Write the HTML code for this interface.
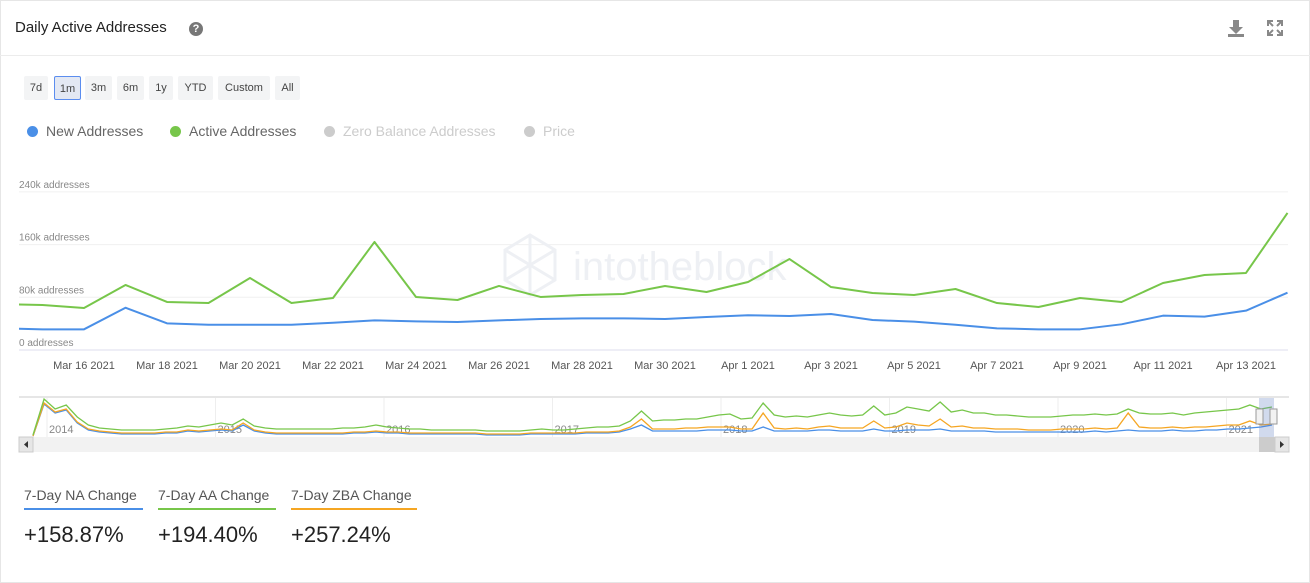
<!DOCTYPE html>
<html><head><meta charset="utf-8"><style>
body{margin:0;width:1310px;height:583px;background:#fff;font-family:"Liberation Sans",sans-serif;overflow:hidden;position:relative}
.abs{position:absolute}
.btn{position:absolute;top:76px;height:24px;background:#f3f4f5;border-radius:2px;font-size:11px;color:#444;line-height:24px;text-align:center}
.leg{position:absolute;top:123px;font-size:14px;line-height:16px}
.dot{display:inline-block;width:11px;height:11px;border-radius:50%;margin-right:8px;vertical-align:-1px}
.stat{position:absolute;top:487px;font-size:14px;color:#555}
.val{position:absolute;top:522px;font-size:22px;color:#222}
</style></head><body>
<div class="abs" style="left:0;top:0;width:1308px;height:581px;border:1px solid #e6e6e6"></div>
<div class="abs" style="left:15px;top:19px;font-size:15px;color:#222">Daily Active Addresses</div>
<div class="abs" style="left:189px;top:22px;width:14px;height:14px;border-radius:50%;background:#777;color:#fff;font-size:11px;font-weight:bold;text-align:center;line-height:14px">?</div>
<svg class="abs" style="left:1227px;top:19px" width="18" height="18"><path d="M6 1h6v7h4l-7 7-7-7h4z" fill="#888"/><rect x="1" y="15" width="16" height="3" fill="#888"/></svg>
<svg class="abs" style="left:1267px;top:20px" width="16" height="16" stroke="#888" stroke-width="2" fill="none"><path d="M1 6V1h5M10 1h5v5M15 10v5h-5M6 15H1v-5M1 1l5 5M15 1l-5 5M15 15l-5-5M1 15l5-5"/></svg>
<div class="abs" style="left:0;top:55px;width:1310px;height:1px;background:#ececec"></div>
<div class="btn" style="left:24px;width:24px">7d</div>
<div class="btn" style="left:54px;width:25px;height:22px;border:1px solid #5b8def;background:#e3e8f3">1m</div>
<div class="btn" style="left:85px;width:27px">3m</div>
<div class="btn" style="left:117px;width:27px">6m</div>
<div class="btn" style="left:149px;width:24px">1y</div>
<div class="btn" style="left:178px;width:35px">YTD</div>
<div class="btn" style="left:218px;width:52px">Custom</div>
<div class="btn" style="left:275px;width:25px">All</div>
<div class="leg" style="left:27px;color:#666"><span class="dot" style="background:#4a8fe7"></span>New Addresses</div>
<div class="leg" style="left:170px;color:#666"><span class="dot" style="background:#77c64a"></span>Active Addresses</div>
<div class="leg" style="left:324px;color:#ccc"><span class="dot" style="background:#ccc"></span>Zero Balance Addresses</div>
<div class="leg" style="left:524px;color:#ccc"><span class="dot" style="background:#ccc"></span>Price</div>
<svg class="abs" id="chart" style="left:0;top:0" width="1310" height="460"></svg>
<div class="stat" style="left:24px;width:119px;border-bottom:2px solid #4a8fe7;padding-bottom:5px">7-Day NA Change</div>
<div class="stat" style="left:158px;width:118px;border-bottom:2px solid #77c64a;padding-bottom:5px">7-Day AA Change</div>
<div class="stat" style="left:291px;width:126px;border-bottom:2px solid #f5a623;padding-bottom:5px">7-Day ZBA Change</div>
<div class="val" style="left:24px">+158.87%</div>
<div class="val" style="left:158px">+194.40%</div>
<div class="val" style="left:291px">+257.24%</div>
<script>
const yTicks=[0,80000,160000,240000];
const yTickLabels=["0 addresses","80k addresses","160k addresses","240k addresses"];
const xTickDays=[2,4,6,8,10,12,14,16,18,20,22,24,26,28,30];
const xTickLabels=["Mar 16 2021","Mar 18 2021","Mar 20 2021","Mar 22 2021","Mar 24 2021","Mar 26 2021","Mar 28 2021","Mar 30 2021","Apr 1 2021","Apr 3 2021","Apr 5 2021","Apr 7 2021","Apr 9 2021","Apr 11 2021","Apr 13 2021"];
const activeAddr=[69.8,68.3,63.8,98.7,72.9,71.3,109.3,71.3,78.9,164,80.5,75.9,97.2,80.5,83.5,85,97.2,88,103.2,138.1,95.6,86.5,83.5,92.6,71.3,65.3,78.9,72.9,101.7,113.9,116.9,208];
const newAddr=[32.9,31.4,31.4,64.2,40.5,38.4,38.4,38.4,41.4,45,43.5,42.5,45,47,48.1,48.1,47,50.1,52.7,51.6,54.6,45.5,43,38.4,32.9,31.4,31.4,39,52.1,50.6,59.7,87];
const navActive=[2,38,28,32,20,12,9,8,7,7,7,7,8,9,11,10,12,14,12,18,11,9,8,8,8,8,8,8,9,9,10,12,10,9,8,8,7,7,7,7,7,6,6,6,6,7,8,7,7,8,9,10,10,11,16,26,16,17,17,18,18,20,22,23,18,19,34,22,20,21,20,22,24,22,21,22,31,22,24,30,28,26,35,25,27,24,24,22,22,21,20,20,20,21,22,22,23,22,23,28,24,23,23,24,22,24,25,26,27,28,32,28,30];
const navNew=[1,33,24,27,14,7,5,4,3,3,3,3,4,4,6,5,6,7,6,12,6,4,3,3,3,3,3,3,3,4,4,5,4,4,3,3,3,3,3,3,3,2,2,2,2,3,3,3,3,3,4,4,4,5,8,12,6,6,6,6,6,7,7,7,6,6,10,6,6,6,6,7,7,6,6,6,8,6,6,7,7,7,8,6,6,6,6,5,5,5,5,5,5,5,5,5,6,5,6,7,6,6,6,7,6,6,7,7,8,8,9,10,12];
const navZero=[1,34,25,28,15,8,6,5,4,4,4,4,5,5,7,6,7,8,7,14,7,5,4,4,4,4,4,4,4,5,5,6,5,5,4,4,4,4,4,4,4,3,3,3,3,4,4,4,4,4,5,5,5,6,10,18,8,8,8,9,9,10,10,10,8,8,24,9,8,9,8,10,11,9,9,9,16,9,10,14,12,11,18,10,11,9,9,8,8,8,7,7,7,8,8,8,9,8,9,24,10,9,9,10,9,10,10,11,12,12,16,12,13];
const navYears=["2014","2015","2016","2017","2018","2019","2020","2021"];
const NS="http://www.w3.org/2000/svg";
const svg=document.getElementById('chart');
const x0=19,x1=1288,y0=350,ppk=52.7/80000;
const xs=d=>84+(d-2)*41.5;
const ys=v=>y0-v*ppk;
function mk(t,a){const e=document.createElementNS(NS,t);for(const k in a)e.setAttribute(k,a[k]);svg.appendChild(e);return e;}
yTicks.forEach((v,i)=>{
 const g=mk('line',{x1:x0,x2:x1,y1:ys(v),y2:ys(v),stroke:i==0?'#dde':'#f0f0f0'});
 
 
 const t=mk('text',{x:19,y:ys(v)-4,'font-size':10,fill:'#888','font-family':'Liberation Sans'});
 t.textContent=yTickLabels[i];
 
 
});
xTickDays.forEach((d,i)=>{
 const t=mk('text',{x:xs(d),y:369,'font-size':11,fill:'#555','text-anchor':'middle','font-family':'Liberation Sans'});
 t.textContent=xTickLabels[i];
 
 
});
const logo=mk('path',{d:'M505 250l25-15 25 15v30l-25 15-25-15zM505 250l50 30M555 250l-50 30M530 235v60',fill:'none',stroke:'#eef0f4','stroke-width':3});


const wm=mk('text',{x:573,y:280,'font-size':40,fill:'#eef0f4','font-family':'Liberation Sans'});
wm.textContent='intotheblock';


const clip=mk('clipPath',{id:'pc'});const cr=document.createElementNS(NS,'rect');cr.setAttribute('x',x0);cr.setAttribute('y',150);cr.setAttribute('width',x1-x0+2);cr.setAttribute('height',220);clip.appendChild(cr);
function series(arr,color,name){
 const p=mk('polyline',{points:arr.map((v,d)=>xs(d)+','+ys(v*1000)).join(' '),fill:'none',stroke:color,'stroke-width':2,'clip-path':'url(#pc)','stroke-linejoin':'round'});
 
 
}
series(newAddr,'#4a8fe7','new-addresses-line');
series(activeAddr,'#77c64a','active-addresses-line');
// navigator
const nx0=33,nx1=1272,ny0=437;
const nb=mk('rect',{x:19,y:397,width:1270,height:40,fill:'#fff',stroke:'none'});


mk('line',{x1:19,x2:1289,y1:397,y2:397,stroke:'#ccc'});
navYears.forEach((y,i)=>{
 const xx=47+i*168.5;
 const l=mk('line',{x1:xx,x2:xx,y1:398,y2:437,stroke:'#eee'});
 
 
 const t=mk('text',{x:xx+2,y:433,'font-size':11,fill:'#888','font-family':'Liberation Sans'});
 t.textContent=y;
 
 
});
const nxs=i=>nx0+i*(nx1-nx0)/(navActive.length-1);
const nys=v=>ny0-v;
function nav(arr,color,name){
 const p=mk('polyline',{points:arr.map((v,i)=>nxs(i)+','+nys(v)).join(' '),fill:'none',stroke:color,'stroke-width':1.3});
 
 
}
nav(navNew,'#4a8fe7','navigator-new');
nav(navZero,'#f5a623','navigator-zero');
nav(navActive,'#77c64a','navigator-active');
const sel=mk('rect',{x:1259,y:398,width:15,height:39,fill:'rgba(102,133,194,0.3)'});


[1256,1270].forEach(hx=>{const h=mk('rect',{x:hx,y:409,width:7,height:15,fill:'#f2f2f2',stroke:'#999'});
 
 });
const sb=mk('rect',{x:19,y:437,width:1270,height:15,fill:'#f2f2f2'});


const sl=mk('rect',{x:19,y:437,width:14,height:15,fill:'#e6e6e6',stroke:'#ccc'});


mk('path',{d:'M28 441l-4 3.5 4 3.5z',fill:'#333'});
const st=mk('rect',{x:1259,y:437,width:16,height:15,fill:'#ccc'});


const sr=mk('rect',{x:1275,y:437,width:14,height:15,fill:'#e6e6e6',stroke:'#ccc'});


mk('path',{d:'M1280 441l4 3.5-4 3.5z',fill:'#333'});
</script>
</body></html>
